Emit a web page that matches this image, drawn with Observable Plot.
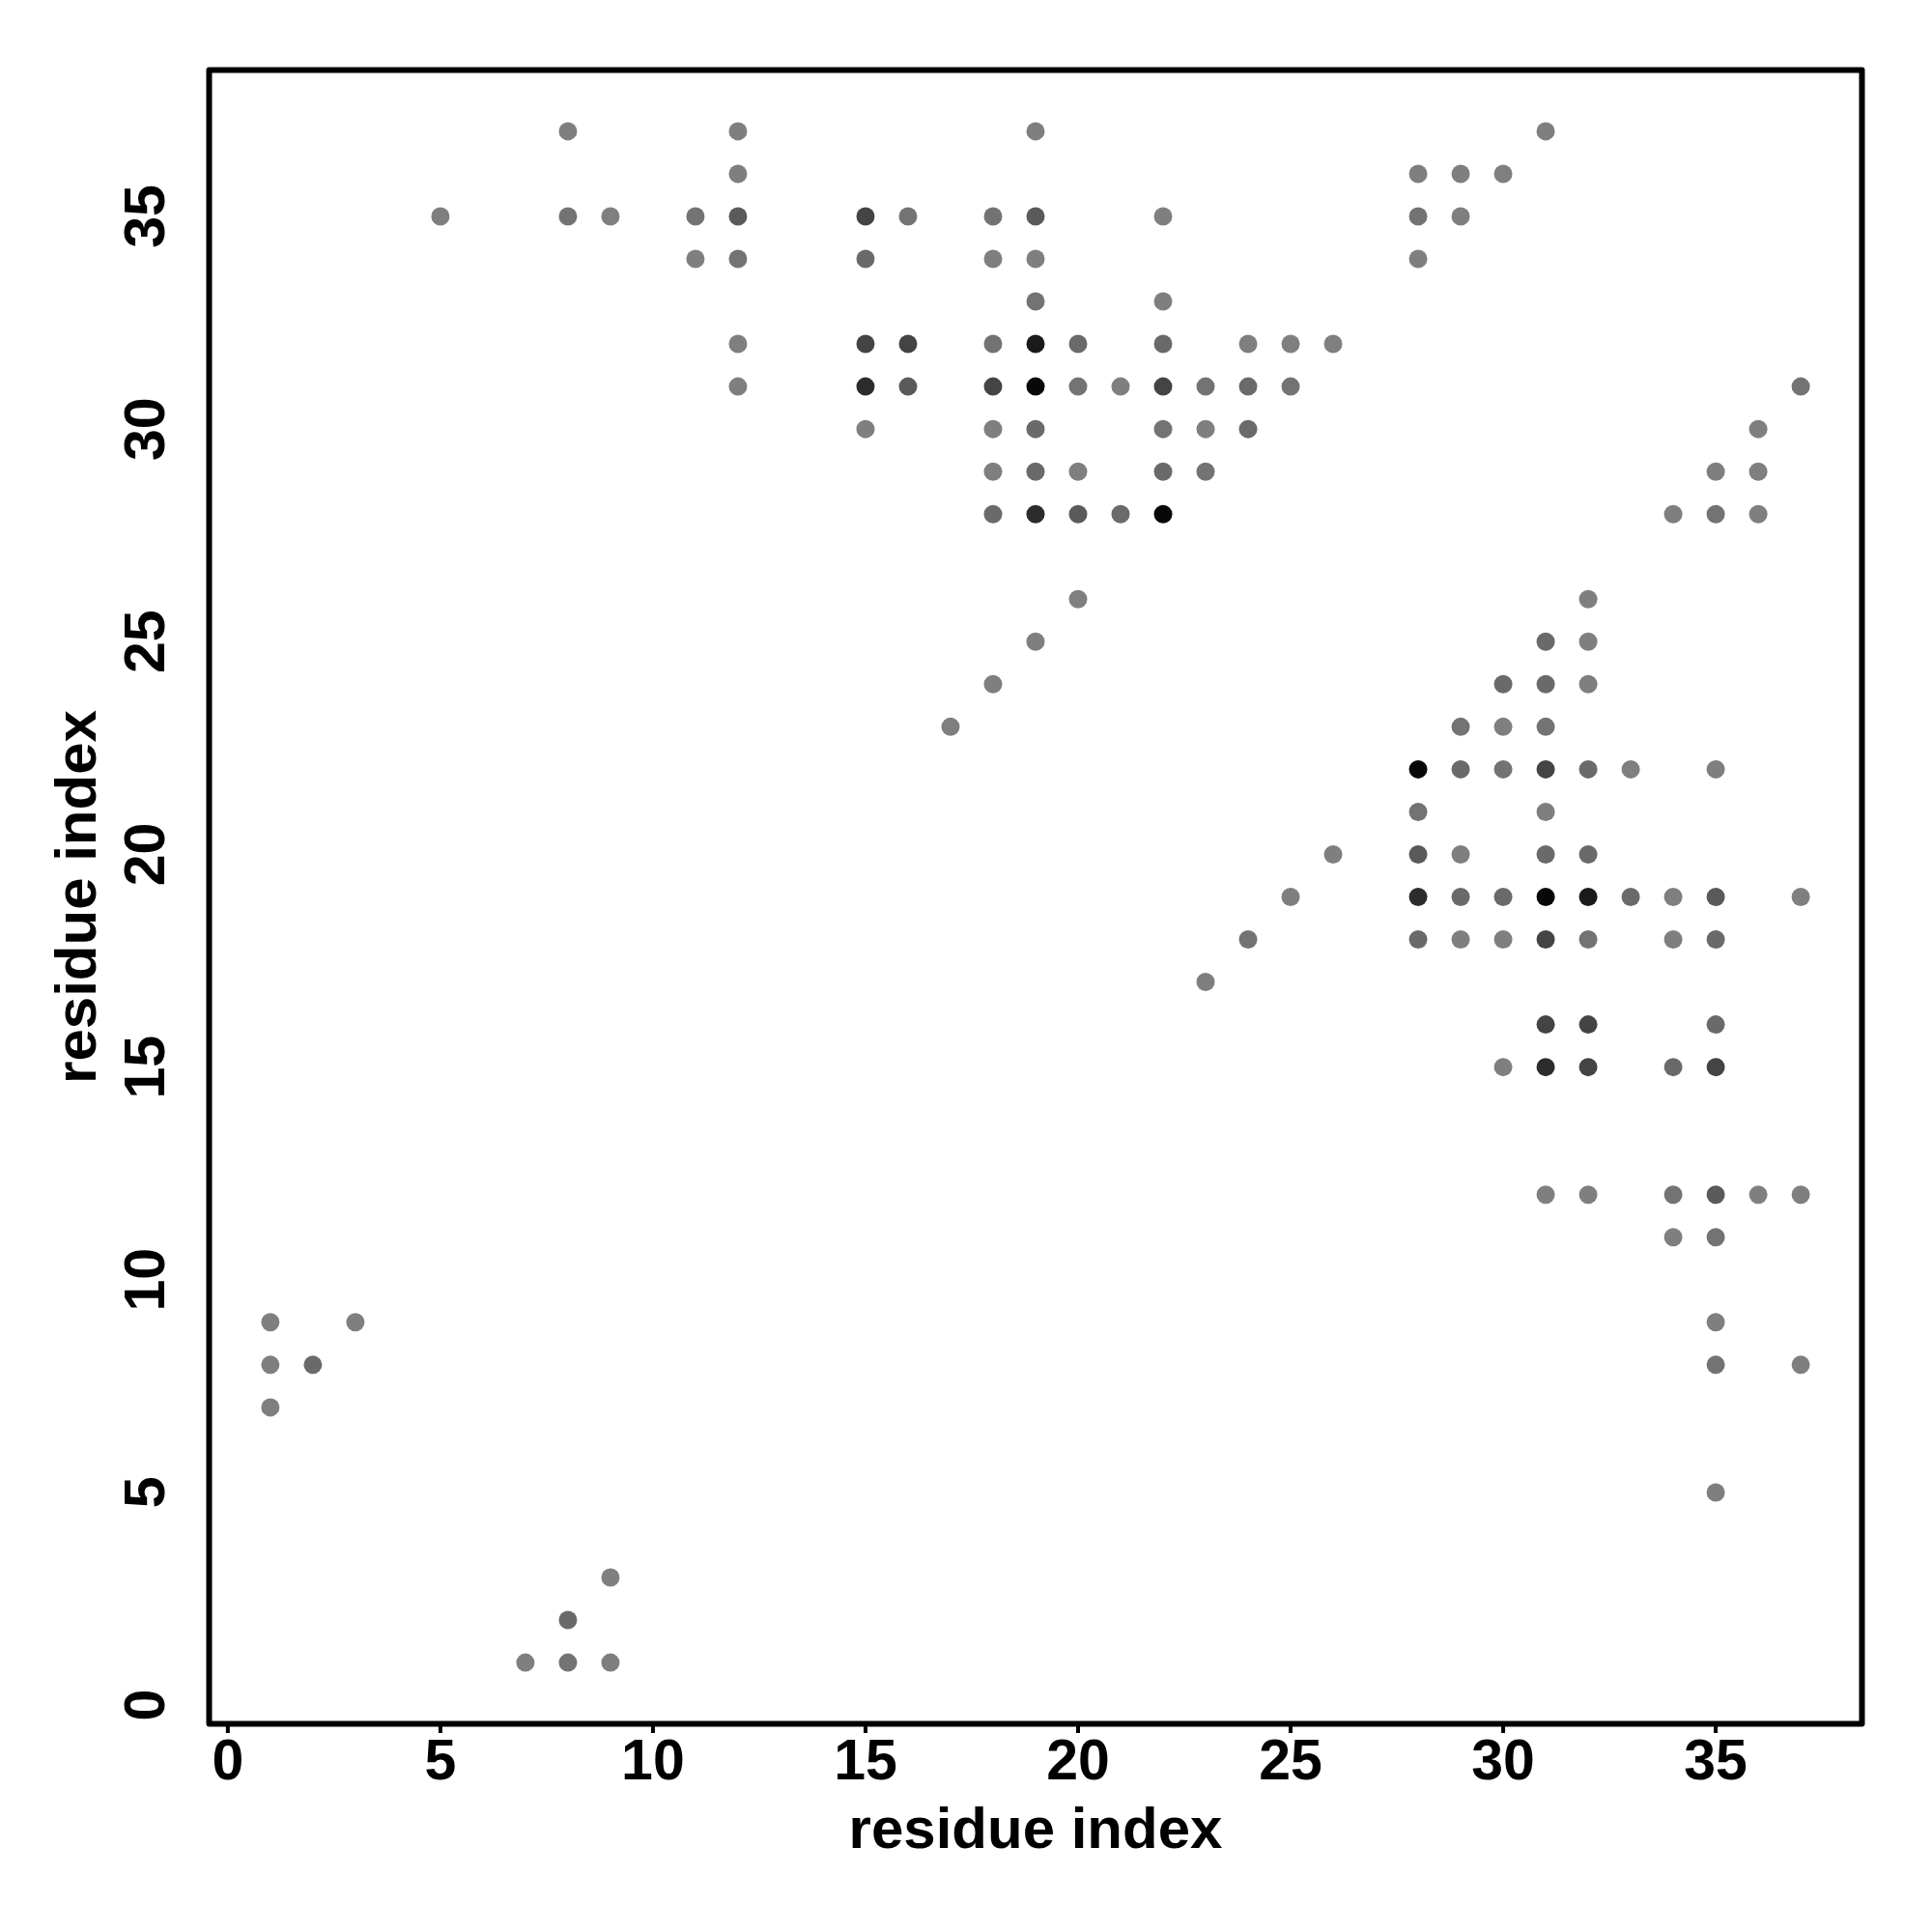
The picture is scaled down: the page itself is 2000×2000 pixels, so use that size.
<!DOCTYPE html>
<html>
<head>
<meta charset="utf-8">
<script src="https://cdn.jsdelivr.net/npm/d3@7"></script>
<script src="https://cdn.jsdelivr.net/npm/@observablehq/plot@0.6"></script>
<style>
  html, body { margin: 0; padding: 0; background: #ffffff; }
</style>
</head>
<body>
<div id="chart"></div>
<script>
// residue i (x), residue j (y), contact depth level (shade), listed row by row from the top
const resI = [
  8, 12, 19, 31,
  12, 28, 29, 30,
  5, 8, 9, 11, 12, 15, 16, 18, 19, 22, 28, 29,
  11, 12, 15, 18, 19, 28,
  19, 22,
  12, 15, 16, 18, 19, 20, 22, 24, 25, 26,
  12, 15, 16, 18, 19, 20, 21, 22, 23, 24, 25, 37,
  15, 18, 19, 22, 23, 24, 36,
  18, 19, 20, 22, 23, 35, 36,
  18, 19, 20, 21, 22, 34, 35, 36,
  20, 32,
  19, 31, 32,
  18, 30, 31, 32,
  17, 29, 30, 31,
  28, 29, 30, 31, 32, 33, 35,
  28, 31,
  26, 28, 29, 31, 32,
  25, 28, 29, 30, 31, 32, 33, 34, 35, 37,
  24, 28, 29, 30, 31, 32, 34, 35,
  23,
  31, 32, 35,
  30, 31, 32, 34, 35,
  31, 32, 34, 35, 36, 37,
  34, 35,
  1, 3, 35,
  1, 2, 35, 37,
  1,
  35,
  9,
  8,
  7, 8, 9
];
const resJ = [
  37, 37, 37, 37,
  36, 36, 36, 36,
  35, 35, 35, 35, 35, 35, 35, 35, 35, 35, 35, 35,
  34, 34, 34, 34, 34, 34,
  33, 33,
  32, 32, 32, 32, 32, 32, 32, 32, 32, 32,
  31, 31, 31, 31, 31, 31, 31, 31, 31, 31, 31, 31,
  30, 30, 30, 30, 30, 30, 30,
  29, 29, 29, 29, 29, 29, 29,
  28, 28, 28, 28, 28, 28, 28, 28,
  26, 26,
  25, 25, 25,
  24, 24, 24, 24,
  23, 23, 23, 23,
  22, 22, 22, 22, 22, 22, 22,
  21, 21,
  20, 20, 20, 20, 20,
  19, 19, 19, 19, 19, 19, 19, 19, 19, 19,
  18, 18, 18, 18, 18, 18, 18, 18,
  17,
  16, 16, 16,
  15, 15, 15, 15, 15,
  12, 12, 12, 12, 12, 12,
  11, 11,
  9, 9, 9,
  8, 8, 8, 8,
  7,
  5,
  3,
  2,
  1, 1, 1
];
const depth = [
  1, 1, 1, 1,
  1, 1, 1, 1,
  1, 2, 1, 2, 4, 5, 2, 2, 4, 1, 2, 1,
  1, 2, 3, 1, 1, 1,
  2, 1,
  1, 5, 5, 2, 7, 3, 3, 1, 1, 1,
  1, 6, 4, 5, 8, 2, 1, 5, 2, 3, 2, 2,
  1, 1, 3, 2, 1, 3, 1,
  1, 3, 1, 3, 2, 1, 1,
  3, 6, 4, 3, 8, 1, 2, 1,
  1, 1,
  1, 3, 1,
  1, 3, 3, 1,
  1, 2, 1, 2,
  8, 3, 2, 5, 3, 1, 1,
  2, 1,
  1, 4, 1, 3, 3,
  1, 6, 3, 3, 8, 7, 3, 1, 4, 1,
  2, 3, 1, 1, 5, 2, 1, 3,
  1,
  5, 5, 3,
  1, 6, 5, 3, 5,
  1, 1, 2, 4, 1, 1,
  1, 2,
  1, 1, 1,
  1, 3, 2, 1,
  1,
  1,
  1,
  3,
  1, 2, 1
];
const depthLevels = [1, 2, 3, 4, 5, 6, 7, 8];
const depthGreys = ["#7f7f7f", "#737373", "#6a6a6a", "#5a5a5a", "#444444", "#2c2c2c", "#1a1a1a", "#080808"];
const tickValues = [0, 5, 10, 15, 20, 25, 30, 35];
const xTitle = "residue index";
const yTitle = "residue index";

const contacts = resI.map((x, k) => ({i: x, j: resJ[k], d: depth[k]}));

const FONT = "'Liberation Sans', Arial, Helvetica, sans-serif";
const FS = 59;
const TFS = 60;

const chart = Plot.plot({
  width: 2000,
  height: 2000,
  marginLeft: 216,
  marginRight: 73,
  marginTop: 72,
  marginBottom: 216,
  style: {fontFamily: FONT, fontWeight: "bold", background: "#ffffff", color: "#000000", fontSize: FS + "px"},
  x: {domain: [-0.44, 38.44], ticks: tickValues, label: null},
  y: {domain: [-0.44, 38.44], ticks: tickValues, label: null},
  color: {type: "ordinal", domain: depthLevels, range: depthGreys},
  marks: [
    Plot.dot(contacts, {x: "i", y: "j", r: 9.5, fill: "d", stroke: null}),
    Plot.frame({stroke: "#000000", strokeWidth: 6, strokeLinejoin: "round"}),
    Plot.axisX({ticks: tickValues, tickSize: 10, tickPadding: 6, strokeWidth: 4,
      fontSize: FS, fontWeight: "bold", label: null}),
    Plot.axisY({ticks: tickValues, tickSize: 10, tickPadding: 37, strokeWidth: 4,
      fontSize: FS, fontWeight: "bold", rotate: -90, textAnchor: "middle", lineAnchor: "bottom", label: null}),
    Plot.text([xTitle], {text: d => d, frameAnchor: "bottom", dy: 128, lineAnchor: "bottom",
      fontSize: TFS, fontWeight: "bold", fill: "#000000"}),
    Plot.text([yTitle], {text: d => d, frameAnchor: "left", dx: -118, rotate: -90, textAnchor: "middle",
      lineAnchor: "bottom", fontSize: TFS, fontWeight: "bold", fill: "#000000"})
  ]
});
document.getElementById("chart").appendChild(chart);
</script>
</body>
</html>
